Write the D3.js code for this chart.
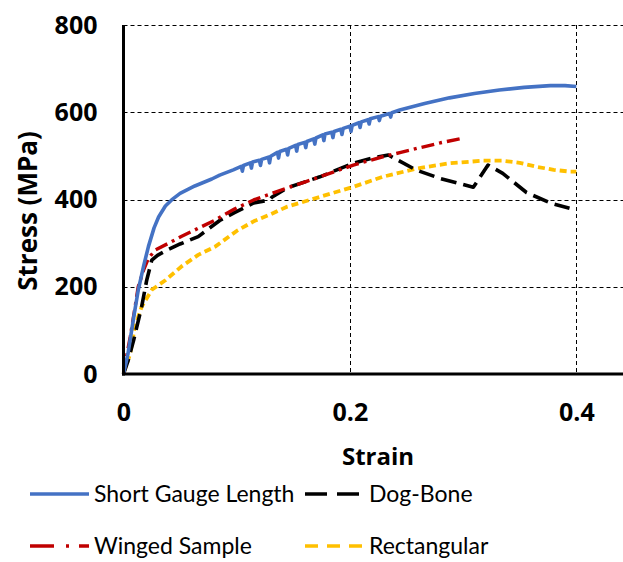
<!DOCTYPE html>
<html>
<head>
<meta charset="utf-8">
<script src="https://cdn.jsdelivr.net/npm/d3@7"></script>
<style>
  html, body { margin: 0; padding: 0; background: #fff; }
  svg { display: block; }
</style>
</head>
<body>
<svg id="chart" width="623" height="562"></svg>
<script>
// ---- data (strain, stress in MPa) ----
const shortGauge = [
  [0,0],[0.004,47],[0.009,130],[0.013,192],[0.018,250],[0.022,292],[0.027,335],[0.031,360],
  [0.037,385],[0.0425,399],[0.05,414],[0.063,431],[0.078,447],[0.085,456],[0.097,468],
  [0.104,476],[0.105,465],[0.106,478],[0.112,484],[0.113,472],[0.114,486],
  [0.120,490],[0.121,478],[0.122,492],[0.128,497],[0.129,484],[0.130,499],
  [0.136,508],[0.137,495],[0.138,510],[0.144,515],[0.145,502],[0.146,517],
  [0.152,524],[0.153,511],[0.154,526],[0.160,531],[0.161,519],[0.162,533],
  [0.168,539],[0.169,527],[0.170,541],[0.176,548],[0.177,535],[0.178,550],
  [0.184,554],[0.185,542],[0.186,556],[0.192,561],[0.193,549],[0.194,563],
  [0.200,568],[0.201,556],[0.202,570],[0.208,576],[0.209,565],[0.210,578],
  [0.216,583],[0.217,573],[0.218,585],[0.225,590],[0.226,581],[0.227,591],
  [0.235,597],[0.236,589],[0.237,599],[0.244,605],[0.266,620],[0.288,633],[0.31,643],
  [0.332,651],[0.354,657],[0.377,661],[0.39,661],[0.4,659]
];
const dogBone = [
  [0,0],[0.004,30],[0.009,78],[0.016,154],[0.0205,215],[0.025,261],[0.03,272],[0.037,282],
  [0.05,298],[0.066,315],[0.085,352],[0.098,370],[0.115,392],[0.129,399],[0.131,405],
  [0.144,426],[0.1735,452],[0.203,483],[0.22,495],[0.234,502],[0.244,488],[0.259,467],
  [0.28,448],[0.309,428],[0.322,479],[0.335,460],[0.356,416],[0.377,392],[0.394,380]
];
const winged = [
  [0,0],[0.003,44],[0.006,86],[0.01,150],[0.013,200],[0.018,240],[0.022,265],[0.028,284],
  [0.04,300],[0.051,315],[0.066,334],[0.081,353],[0.098,378],[0.115,399],[0.13,413],
  [0.144,426],[0.16,440],[0.1735,452],[0.19,467],[0.203,479],[0.229,498],[0.245,508],
  [0.259,517],[0.28,530],[0.299,540]
];
const rectangular = [
  [0,2],[0.006,47],[0.01,108],[0.016,154],[0.025,193],[0.037,215],[0.051,246],[0.066,273],
  [0.081,292],[0.1,328],[0.115,350],[0.13,366],[0.144,383],[0.1735,406],[0.203,429],
  [0.229,452],[0.259,471],[0.288,483],[0.318,489],[0.335,489],[0.35,484],[0.365,475],
  [0.38,468],[0.394,464],[0.4,464]
];
const seriesNames = ["Short Gauge Length", "Dog-Bone", "Winged Sample", "Rectangular"];
const xTicks = [0, 0.2, 0.4];
const yTicks = [0, 200, 400, 600, 800];
const xTitle = "Strain";
const yTitle = "Stress (MPa)";

// ---- styles ----
const styles = {
  "Short Gauge Length": { color: "#4472C4", dash: null, width: 3.6 },
  "Dog-Bone": { color: "#000000", dash: "16,7", width: 3.6 },
  "Winged Sample": { color: "#C00000", dash: "13,5,3,5", width: 3.4 },
  "Rectangular": { color: "#FFC000", dash: "7,4", width: 3.8 }
};
const seriesData = {
  "Short Gauge Length": shortGauge,
  "Dog-Bone": dogBone,
  "Winged Sample": winged,
  "Rectangular": rectangular
};

const svg = d3.select("#chart");
const x = d3.scaleLinear().domain([0, 0.44]).range([123.5, 621.6]);
const y = d3.scaleLinear().domain([0, 800]).range([374, 25]);

// gridlines
const grid = svg.append("g");
grid.selectAll("line.h").data(yTicks.filter(d => d > 0)).join("line")
  .attr("x1", x(0)).attr("x2", 623)
  .attr("y1", d => Math.round(y(d)) + 0.5).attr("y2", d => Math.round(y(d)) + 0.5)
  .attr("stroke", "#000").attr("stroke-width", 1).attr("stroke-dasharray", "4,3");
grid.selectAll("line.v").data(xTicks.filter(d => d > 0)).join("line")
  .attr("x1", d => Math.round(x(d)) + 0.5).attr("x2", d => Math.round(x(d)) + 0.5)
  .attr("y1", y(800)).attr("y2", y(0))
  .attr("stroke", "#000").attr("stroke-width", 1).attr("stroke-dasharray", "4,3");

// series
const line = d3.line().x(d => x(d[0])).y(d => y(d[1]));
const drawOrder = ["Rectangular", "Dog-Bone", "Winged Sample", "Short Gauge Length"];
drawOrder.forEach(name => {
  const s = styles[name];
  svg.append("path").datum(seriesData[name])
    .attr("d", line)
    .attr("fill", "none")
    .attr("stroke", s.color)
    .attr("stroke-width", s.width)
    .attr("stroke-linejoin", "round")
    .attr("stroke-dasharray", s.dash);
});

// axes
const yAxis = svg.append("g").attr("transform", `translate(${x(0)},0)`)
  .call(d3.axisLeft(y).tickValues(yTicks).tickSize(0).tickPadding(26));
yAxis.select(".domain").remove();
yAxis.selectAll("text").attr("font-family", "'Open Sans', sans-serif")
  .attr("font-size", 25).attr("font-weight", "bold").attr("fill", "#000");

const xAxis = svg.append("g").attr("transform", `translate(0,${y(0)})`)
  .call(d3.axisBottom(x).tickValues(xTicks).tickSize(0).tickPadding(29)
    .tickFormat(d => d === 0 ? "0" : d3.format(".1f")(d)));
xAxis.select(".domain").remove();
xAxis.selectAll("text").attr("font-family", "'Open Sans', sans-serif")
  .attr("font-size", 25).attr("font-weight", "bold").attr("fill", "#000");

// axis lines
svg.append("line").attr("x1", x(0)).attr("x2", x(0)).attr("y1", y(800)).attr("y2", y(0) + 1.5)
  .attr("stroke", "#000").attr("stroke-width", 3);
svg.append("line").attr("x1", x(0) - 1.5).attr("x2", 623).attr("y1", y(0)).attr("y2", y(0))
  .attr("stroke", "#000").attr("stroke-width", 3);

// axis titles
svg.append("text").attr("x", 378).attr("y", 465).attr("text-anchor", "middle")
  .attr("font-family", "'Open Sans', sans-serif").attr("font-size", 24).attr("font-weight", "bold")
  .text(xTitle);
svg.append("text").attr("transform", "translate(37,211) rotate(-90)").attr("text-anchor", "middle")
  .attr("font-family", "'Open Sans', sans-serif").attr("font-size", 26).attr("font-weight", "bold")
  .text(yTitle);

// legend
const legendPos = {
  "Short Gauge Length": [30, 494],
  "Dog-Bone": [305, 494],
  "Winged Sample": [30, 546],
  "Rectangular": [305, 546]
};
const legendDash = {
  "Short Gauge Length": null,
  "Dog-Bone": "22,10",
  "Winged Sample": "24,12,3,10",
  "Rectangular": "13,9"
};
seriesNames.forEach(name => {
  const [lx, ly] = legendPos[name];
  const s = styles[name];
  svg.append("line").attr("x1", lx).attr("x2", lx + 59).attr("y1", ly).attr("y2", ly)
    .attr("stroke", s.color).attr("stroke-width", 3.5)
    .attr("stroke-dasharray", legendDash[name]);
  svg.append("text").attr("x", lx + 64).attr("y", ly + 8)
    .attr("font-family", "Lato, sans-serif").attr("font-size", 23).attr("fill", "#000")
    .text(name);
});
</script>
</body>
</html>
